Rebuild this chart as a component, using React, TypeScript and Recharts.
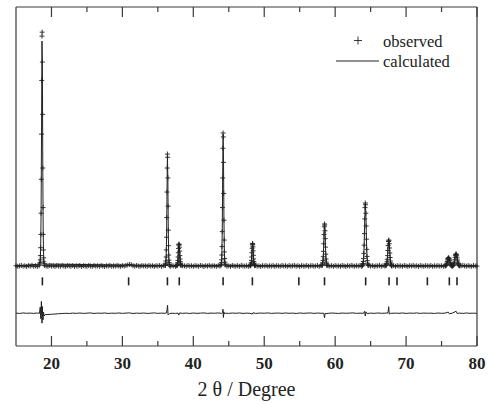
import React from "react";
import { ComposedChart, Line, Scatter, XAxis, YAxis } from "recharts";

// observed background, 2θ = 15 .. 80 in 0.25° steps
const twoThetaStart = 15;
const twoThetaStep = 0.25;
const baseObserved = [
  842, 818, 836, 851, 824, 839, 815, 846, 829, 857, 821, 838, 812, 845, 833, 826, 849, 831, 818, 852,
  827, 841, 816, 849, 835, 822, 853, 830, 817, 844, 836, 824, 848, 819, 839, 828, 851, 814, 843, 832,
  820, 846, 834, 817, 850, 826, 839, 823, 847, 831, 815, 842, 829, 853, 821, 837, 826, 848, 833, 818,
  845, 829, 851, 868, 885, 874, 842, 824, 848, 833, 819, 846, 830, 838, 822, 850, 827, 841, 816, 843,
  831, 847, 820, 839, 852, 826, 841, 818, 845, 833, 822, 849, 830, 816, 844, 837, 825, 851, 829, 840,
  819, 846, 832, 824, 850, 837, 815, 843, 828, 852, 821, 839, 833, 818, 847, 826, 842, 830, 855, 823,
  838, 816, 849, 831, 825, 844, 820, 853, 835, 827, 841, 818, 846, 832, 822, 850, 829, 837, 815, 843,
  830, 848, 821, 839, 826, 852, 817, 845, 834, 823, 849, 831, 840, 819, 846, 828, 836, 853, 824, 841,
  816, 844, 832, 827, 851, 820, 838, 846, 825, 833, 849, 818, 842, 830, 855, 822, 839, 827, 845, 819,
  847, 829, 836, 821, 850, 833, 817, 844, 826, 852, 838, 823, 841, 830, 848, 815, 843, 835, 824, 851,
  828, 845, 819, 839, 832, 854, 821, 842, 830, 816, 847, 836, 825, 849, 820, 843, 831, 838, 823, 850,
  834, 817, 846, 829, 852, 825, 840, 818, 848, 833, 822, 844, 836, 827, 851, 819, 839, 830, 845, 826,
  842, 821, 838, 850, 829, 833, 845, 837, 826, 848, 831, 840, 853, 835, 826, 844, 830, 819, 847, 836,
  829,
];

const background = 830;

// reflections: centre, scan step, 21 observed points and 11 calculated points (every 2nd step)
const peakCenters = [18.66, 36.35, 37.98, 44.2, 48.35, 58.5, 64.25, 67.55, 76.0, 77.05];
const peakSteps = [0.03, 0.03, 0.03, 0.03, 0.03, 0.035, 0.04, 0.04, 0.05, 0.05];
const peakObserved = [
  [900, 960, 1050, 1200, 1480, 1950, 2700, 3900, 5500, 7400, 8970, 9110, 8050, 6200, 4300, 2900, 1950, 1400, 1120, 980, 910],
  [850, 880, 930, 1010, 1150, 1400, 1850, 2550, 3450, 4300, 4795, 4680, 3950, 2950, 2100, 1550, 1220, 1040, 950, 890, 860],
  [840, 850, 870, 900, 950, 1030, 1150, 1300, 1450, 1570, 1610, 1590, 1500, 1360, 1200, 1080, 990, 930, 885, 860, 845],
  [860, 890, 950, 1050, 1220, 1520, 2050, 2900, 3950, 5000, 5540, 5400, 4500, 3400, 2450, 1750, 1330, 1100, 970, 900, 865],
  [840, 850, 870, 900, 950, 1030, 1150, 1300, 1460, 1580, 1630, 1600, 1510, 1370, 1210, 1080, 990, 930, 890, 860, 845],
  [850, 870, 900, 950, 1030, 1160, 1350, 1620, 1950, 2220, 2320, 2280, 2080, 1800, 1500, 1250, 1080, 970, 910, 870, 850],
  [850, 880, 920, 990, 1100, 1280, 1570, 1980, 2500, 2900, 3060, 3000, 2700, 2250, 1780, 1420, 1170, 1020, 930, 880, 855],
  [845, 860, 880, 920, 980, 1070, 1200, 1380, 1560, 1700, 1750, 1720, 1620, 1470, 1290, 1130, 1010, 940, 890, 860, 848],
  [835, 840, 850, 865, 890, 930, 990, 1050, 1095, 1115, 1120, 1105, 1070, 1020, 960, 910, 875, 855, 845, 838, 835],
  [835, 842, 855, 875, 910, 965, 1050, 1140, 1210, 1245, 1255, 1235, 1190, 1120, 1040, 970, 920, 880, 858, 845, 837],
];
const peakCalculated = [
  [900, 1060, 1500, 2750, 5600, 8795, 8000, 4250, 1950, 1110, 900],
  [850, 930, 1150, 1850, 3400, 4750, 3950, 2100, 1230, 950, 860],
  [840, 870, 950, 1150, 1450, 1600, 1500, 1200, 990, 885, 845],
  [860, 950, 1220, 2050, 3950, 5500, 4500, 2450, 1330, 970, 865],
  [840, 870, 950, 1150, 1460, 1620, 1510, 1210, 990, 890, 845],
  [850, 900, 1030, 1350, 1950, 2330, 2080, 1500, 1080, 910, 850],
  [850, 920, 1100, 1570, 2500, 3040, 2700, 1780, 1170, 930, 855],
  [845, 880, 980, 1200, 1560, 1740, 1620, 1290, 1010, 890, 848],
  [835, 850, 890, 990, 1095, 1115, 1070, 960, 875, 845, 835],
  [835, 855, 910, 1050, 1210, 1250, 1190, 1040, 920, 858, 837],
];

// difference curve (obs - calc), shifted down
const diffCurve: [number, number][] = [
  [15, -835], [15.5, -848], [16, -830], [16.5, -842], [17, -836], [17.5, -846], [18, -832], [18.3, -845],
  [18.42, -620], [18.5, -1030], [18.58, -420], [18.66, -1190], [18.72, -600], [18.8, -1080], [18.88, -800],
  [18.96, -940], [19.1, -890], [19.5, -885], [20, -875], [20.5, -868], [21, -858], [21.5, -850], [22, -842],
  [22.5, -848], [23, -836], [23.5, -845], [24, -832], [24.5, -846], [25, -838], [25.5, -829], [26, -847],
  [26.5, -836], [27, -842], [27.5, -831], [28, -848], [28.5, -837], [29, -843], [29.5, -830], [30, -846],
  [30.5, -835], [31, -828], [31.5, -849], [32, -836], [32.5, -843], [33, -832], [33.5, -847], [34, -838],
  [34.5, -829], [35, -845], [35.5, -836], [36, -842], [36.22, -830], [36.3, -700], [36.37, -560], [36.44, -900],
  [36.52, -880], [36.65, -850], [37, -840], [37.5, -846], [37.85, -838], [37.95, -905], [38.05, -830],
  [38.5, -843], [39, -835], [39.5, -848], [40, -832], [40.5, -844], [41, -837], [41.5, -829], [42, -846],
  [42.5, -835], [43, -841], [43.5, -830], [44, -845], [44.12, -820], [44.18, -700], [44.24, -990], [44.3, -790],
  [44.4, -860], [44.6, -838], [45, -846], [45.5, -833], [46, -842], [46.5, -830], [47, -847], [47.5, -836],
  [48, -843], [48.3, -870], [48.4, -825], [48.8, -846], [49.5, -834], [50, -841], [50.5, -829], [51, -846],
  [51.5, -837], [52, -833], [52.5, -845], [53, -830], [53.5, -842], [54, -836], [54.5, -848], [55, -831],
  [55.5, -843], [56, -837], [56.5, -829], [57, -846], [57.5, -834], [58, -842], [58.4, -838], [58.5, -1000],
  [58.58, -850], [59, -845], [59.5, -832], [60, -840], [60.5, -847], [61, -833], [61.5, -842], [62, -836],
  [62.5, -828], [63, -845], [63.5, -837], [64, -843], [64.15, -770], [64.25, -940], [64.35, -790], [64.5, -850],
  [65, -836], [65.5, -845], [66, -831], [66.5, -842], [67, -838], [67.45, -830], [67.55, -610], [67.63, -870],
  [67.8, -845], [68.5, -836], [69, -844], [69.5, -830], [70, -847], [70.5, -835], [71, -842], [71.5, -829],
  [72, -846], [72.5, -834], [73, -841], [73.5, -837], [74, -848], [74.5, -831], [75, -843], [75.5, -836],
  [75.95, -800], [76.1, -860], [76.5, -838], [76.9, -790], [77.05, -770], [77.2, -850], [77.5, -835],
  [78, -846], [78.5, -832], [79, -843], [79.5, -837], [80, -845],
];

// Bragg reflection positions
const braggPositions = [18.72, 30.88, 36.35, 38.02, 44.2, 48.33, 54.88, 58.5, 64.3, 67.6, 68.72, 73.0, 76.1, 77.18];
const braggLevel = 290;

const xTicks = [20, 25, 30, 35, 40, 45, 50, 55, 60, 65, 70, 75, 80];

const INK = "#222";
const FRAME = "#3a3a3a";
const SERIF = "'Liberation Serif', 'Times New Roman', serif";

const observed: { x: number; y: number }[] = [];
baseObserved.forEach((y, i) => {
  const x = twoThetaStart + i * twoThetaStep;
  const inPeak = peakCenters.some((c, k) => Math.abs(x - c) <= 10 * peakSteps[k] + 1e-6);
  if (!inPeak) observed.push({ x, y });
});
peakCenters.forEach((c, k) =>
  peakObserved[k].forEach((y, i) => observed.push({ x: c + (i - 10) * peakSteps[k], y }))
);
observed.sort((a, b) => a.x - b.x);

const calculated: { x: number; y: number }[] = [{ x: 15, y: background }];
peakCenters.forEach((c, k) =>
  peakCalculated[k].forEach((y, i) => calculated.push({ x: c + (i - 5) * 2 * peakSteps[k], y }))
);
calculated.push({ x: 80, y: background });

const difference = diffCurve.map(([x, y]) => ({ x, y }));
const bragg = braggPositions.map((x) => ({ x, y: braggLevel }));

const Cross = (props: any) => {
  const { cx, cy } = props;
  if (cx == null || cy == null) return null;
  return (
    <path
      d={`M${cx - 2.5},${cy}h5M${cx},${cy - 2.5}v5`}
      stroke={INK}
      strokeWidth={0.9}
      fill="none"
    />
  );
};

const BraggMark = (props: any) => {
  const { cx, cy } = props;
  if (cx == null || cy == null) return null;
  return <line x1={cx} x2={cx} y1={cy - 4} y2={cy + 4} stroke={INK} strokeWidth={1.6} />;
};

const BottomTick = (props: any) => {
  const { x, y, payload } = props;
  const major = payload.value % 10 === 0;
  return (
    <g>
      <line x1={x} x2={x} y1={y} y2={y - (major ? 10 : 5)} stroke={FRAME} strokeWidth={1.2} />
      {major && (
        <text x={x} y={y + 22.5} textAnchor="middle" fontFamily={SERIF} fontWeight="bold" fontSize={17} fill={INK}>
          {payload.value}
        </text>
      )}
    </g>
  );
};

const TopTick = (props: any) => {
  const { x, y, payload } = props;
  const major = payload.value % 10 === 0;
  return <line x1={x} x2={x} y1={y} y2={y + (major ? 10 : 5)} stroke={FRAME} strokeWidth={1.2} />;
};

export default function App() {
  return (
    <div style={{ position: "relative", width: 490, height: 404, background: "#fff" }}>
      <style>{"body{margin:0}"}</style>
      <ComposedChart width={490} height={404} margin={{ top: 6, right: 12, bottom: 0, left: 15 }}>
        <XAxis
          xAxisId="b"
          dataKey="x"
          type="number"
          domain={[15, 80]}
          ticks={xTicks}
          interval={0}
          height={58}
          tickSize={0}
          tickMargin={0}
          tickLine={false}
          tick={<BottomTick />}
          axisLine={{ stroke: FRAME, strokeWidth: 1.2 }}
          label={{
            value: "2 θ / Degree",
            position: "insideBottom",
            offset: 8,
            style: { fontFamily: SERIF, fontSize: 20, fill: INK },
          }}
        />
        <XAxis
          xAxisId="t"
          orientation="top"
          dataKey="x"
          type="number"
          domain={[15, 80]}
          ticks={xTicks}
          interval={0}
          height={1}
          tickSize={0}
          tickMargin={0}
          tickLine={false}
          tick={<TopTick />}
          axisLine={{ stroke: FRAME, strokeWidth: 1.2 }}
        />
        <YAxis
          yAxisId="l"
          type="number"
          domain={[-2000, 10000]}
          width={1}
          tick={false}
          tickLine={false}
          axisLine={{ stroke: FRAME, strokeWidth: 1.2 }}
        />
        <YAxis
          yAxisId="r"
          orientation="right"
          type="number"
          domain={[-2000, 10000]}
          width={1}
          tick={false}
          tickLine={false}
          axisLine={{ stroke: FRAME, strokeWidth: 1.2 }}
        />
        <Line
          xAxisId="b"
          yAxisId="l"
          data={difference}
          dataKey="y"
          type="linear"
          stroke={INK}
          strokeWidth={1}
          dot={false}
          isAnimationActive={false}
        />
        <Scatter
          xAxisId="t"
          yAxisId="r"
          data={bragg}
          dataKey="y"
          shape={<BraggMark />}
          isAnimationActive={false}
        />
        <Scatter
          xAxisId="b"
          yAxisId="l"
          data={observed}
          dataKey="y"
          shape={<Cross />}
          isAnimationActive={false}
        />
        <Line
          xAxisId="b"
          yAxisId="l"
          data={calculated}
          dataKey="y"
          type="linear"
          stroke={INK}
          strokeWidth={1}
          dot={false}
          isAnimationActive={false}
        />
      </ComposedChart>
      <svg
        width={490}
        height={404}
        style={{ position: "absolute", left: 0, top: 0, pointerEvents: "none" }}
      >
        <path d="M354,40.5h8M358,36.5v8" stroke={INK} strokeWidth={0.9} />
        <text x={383} y={46.5} fontFamily={SERIF} fontSize={16.5} fill={INK}>
          observed
        </text>
        <line x1={336} x2={379} y1={61} y2={61} stroke={INK} strokeWidth={1} />
        <text x={383} y={66.5} fontFamily={SERIF} fontSize={16.5} fill={INK}>
          calculated
        </text>
      </svg>
    </div>
  );
}
